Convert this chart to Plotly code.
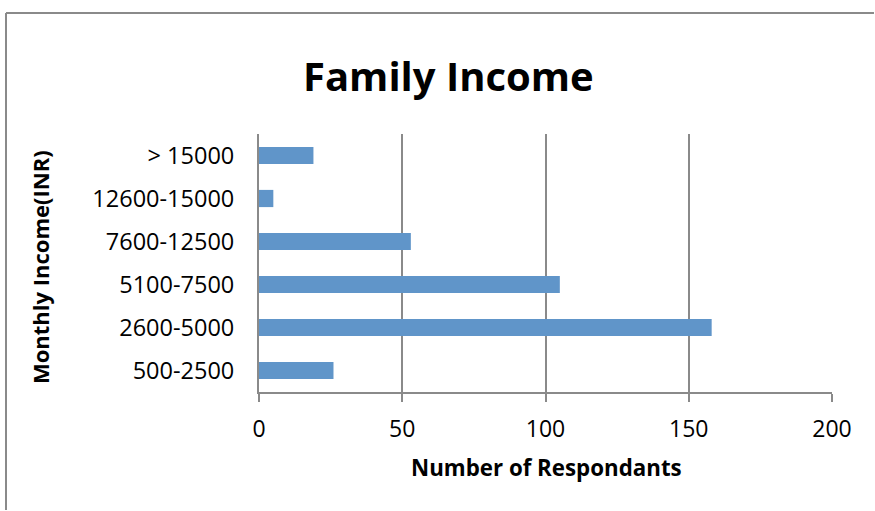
import plotly.graph_objects as go

categories = ['500-2500', '2600-5000', '5100-7500', '7600-12500', '12600-15000', '> 15000']
respondents = [26, 158, 105, 53, 5, 19]
x_ticks = [0, 50, 100, 150, 200]

L, R, T, B = 259, 43, 134, 119
W, H = 875, 511
pw = W - L - R
ph = H - T - B

def px_x(px):
    return (px - L) / pw

def px_y(py):
    return (H - B - py) / ph

grey = '#8a8a8a'
font = 'Open Sans'

fig = go.Figure(go.Bar(
    x=respondents, y=categories, orientation='h',
    marker=dict(color='#6095C9', line=dict(width=0)),
    width=0.4,
))

fig.update_layout(
    width=W, height=H,
    margin=dict(l=L, r=R, t=T, b=B),
    paper_bgcolor='white', plot_bgcolor='white',
    showlegend=False,
    font=dict(family=font, color='black'),
    xaxis=dict(
        range=[0, 200], tickvals=x_ticks, ticktext=[str(v) for v in x_ticks],
        showgrid=True, gridcolor=grey, gridwidth=1.5,
        showline=True, linecolor=grey, linewidth=2,
        ticks='outside', ticklen=8, tickcolor=grey, tickwidth=1.5,
        tickfont=dict(size=23, family=font, color='black'),
        ticklabelstandoff=7,
        zeroline=False, fixedrange=True,
    ),
    yaxis=dict(
        categoryorder='array', categoryarray=categories,
        showgrid=False, showline=True, linecolor=grey, linewidth=2,
        ticks='', tickfont=dict(size=23.5, family=font, color='black'),
        ticklabelstandoff=18,
        zeroline=False, fixedrange=True,
    ),
    shapes=[
        dict(type='line', xref='paper', yref='paper',
             x0=px_x(6), x1=px_x(874), y0=px_y(13), y1=px_y(13),
             line=dict(color=grey, width=2), layer='below'),
        dict(type='line', xref='paper', yref='paper',
             x0=px_x(6), x1=px_x(6), y0=px_y(13), y1=px_y(510),
             line=dict(color=grey, width=2), layer='below'),
    ],
    annotations=[
        dict(text='<b>Family Income</b>', xref='paper', yref='paper',
             x=px_x(448), y=px_y(75), xanchor='center', yanchor='middle',
             showarrow=False, font=dict(size=40, family=font, color='black')),
        dict(text='<b>Number of Respondants</b>', xref='paper', yref='paper',
             x=px_x(546), y=px_y(467), xanchor='center', yanchor='middle',
             showarrow=False, font=dict(size=22.3, family=font, color='black')),
        dict(text='<b>Monthly Income(INR)</b>', xref='paper', yref='paper',
             x=px_x(40), y=px_y(267), xanchor='center', yanchor='middle', textangle=-90,
             showarrow=False, font=dict(size=22, family=font, color='black')),
    ],
)

fig.write_html('out.html')
